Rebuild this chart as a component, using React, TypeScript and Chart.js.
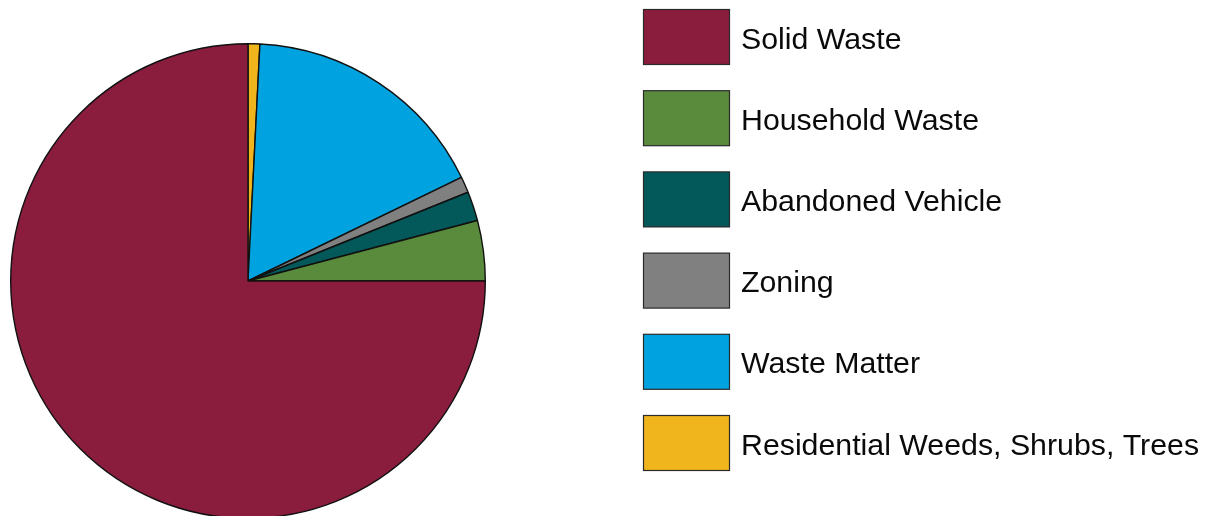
import React, { useEffect, useRef } from "react";
import { Chart, registerables } from "chart.js";

Chart.register(...registerables);

// Legend order (as shown in the reference legend)
const categories = [
  "Solid Waste",
  "Household Waste",
  "Abandoned Vehicle",
  "Zoning",
  "Waste Matter",
  "Residential Weeds, Shrubs, Trees",
];
const shares = [75.0, 4.1, 2.0, 1.1, 17.0, 0.8];
const colors = ["#8A1C3E", "#5A8A3C", "#03585A", "#808080", "#00A3E0", "#F0B51C"];

// Slices run counter-clockwise in the reference, so the chart gets them reversed
const chartLabels = [...categories].reverse();
const chartValues = [...shares].reverse();
const chartColors = [...colors].reverse();

const legendPlugin = {
  id: "sideLegend",
  afterDraw(chart: any) {
    const ctx = chart.ctx;
    const boxLeft = 643.5;
    const boxW = 86;
    const boxH = 55;
    const top0 = 9.5;
    const step = 81.2;
    ctx.save();
    ctx.font = '30.3px "Liberation Sans", Arial, sans-serif';
    ctx.textBaseline = "alphabetic";
    ctx.textAlign = "left";
    categories.forEach((label, i) => {
      const y = top0 + step * i;
      ctx.fillStyle = colors[i];
      ctx.fillRect(boxLeft, y, boxW, boxH);
      ctx.lineWidth = 1.2;
      ctx.strokeStyle = "#2a2a2a";
      ctx.strokeRect(boxLeft, y, boxW, boxH);
      ctx.fillStyle = "#0a0a0a";
      ctx.fillText(label, 741, y + 39);
    });
    ctx.restore();
  },
};

export default function App() {
  const ref = useRef<HTMLCanvasElement | null>(null);
  useEffect(() => {
    if (!ref.current) return;
    const chart = new Chart(ref.current, {
      type: "pie",
      data: {
        labels: chartLabels,
        datasets: [
          {
            data: chartValues,
            backgroundColor: chartColors,
            borderColor: "#111111",
            borderWidth: 1.4,
          },
        ],
      },
      options: {
        responsive: false,
        animation: false,
        layout: { padding: { left: 10, top: 43, right: 719, bottom: 41 } },
        plugins: {
          legend: { display: false },
          tooltip: { enabled: false },
        },
      },
      plugins: [legendPlugin],
    });
    return () => chart.destroy();
  }, []);
  return (
    <div
      style={{
        position: "fixed",
        left: 0,
        top: 0,
        width: 1205,
        height: 516,
        overflow: "hidden",
        background: "#ffffff",
      }}
    >
      <canvas ref={ref} width={1205} height={560} style={{ display: "block" }} />
    </div>
  );
}
